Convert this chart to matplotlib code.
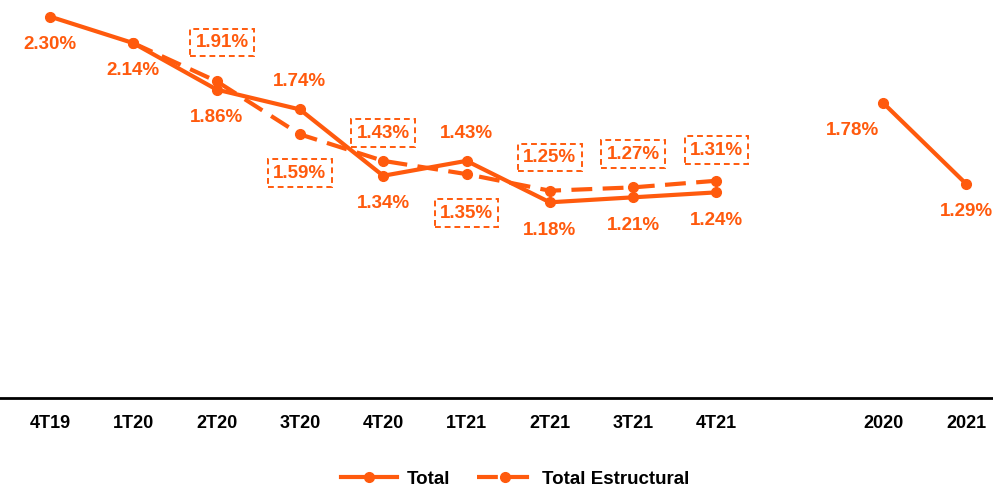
import matplotlib.pyplot as plt
import numpy as np

plt.rcParams['font.family'] = ['Liberation Sans', 'DejaVu Sans']

periods = ['4T19', '1T20', '2T20', '3T20', '4T20', '1T21', '2T21', '3T21', '4T21', '', '2020', '2021']
total = [2.30, 2.14, 1.86, 1.74, 1.34, 1.43, 1.18, 1.21, 1.24, np.nan, 1.78, 1.29]
estructural = [np.nan, 2.14, 1.91, 1.59, 1.43, 1.35, 1.25, 1.27, 1.31, np.nan, np.nan, np.nan]

# label offsets in points (dx, dy)
total_off = [(0, -20), (0, -20), (0, -20), (0, 20), (0, -20), (0, 20), (0, -20), (0, -20), (0, -20), None, (-22, -20), (0, -20)]
estr_off = [None, None, (4, 28), (0, -28), (0, 20), (0, -28), (0, 24), (0, 24), (0, 22), None, None, None]

orange = '#FF5A0D'

fig = plt.figure(figsize=(9.93, 4.9), dpi=100)
ax = fig.add_axes([0, 0.1878, 1, 0.8122])
x = np.arange(len(periods))

ax.plot(x, total, color=orange, lw=3, marker='o', ms=7, label='Total', zorder=3)
ax.plot(x, estructural, color=orange, lw=3, ls=(0, (5, 2.5)), marker='o', ms=7,
        label='Total Estructural', zorder=2)

for i, v in enumerate(total):
    if total_off[i] is None:
        continue
    ax.annotate(f'{v:.2f}%', (i, v), xytext=total_off[i], textcoords='offset points',
                ha='center', va='center', fontsize=13.5, fontweight='bold', color=orange)

for i, v in enumerate(estructural):
    if estr_off[i] is None:
        continue
    ax.annotate(f'{v:.2f}%', (i, v), xytext=estr_off[i], textcoords='offset points',
                ha='center', va='center', fontsize=13.5, fontweight='bold', color=orange,
                bbox=dict(boxstyle='square,pad=0.28', fc='white', ec=orange, ls=(0, (3, 2)), lw=1.4))

ax.set_xlim(-0.6, 11.32)
ax.set_ylim(0, 2.40)
ax.set_xticks([i for i in x if periods[i]])
ax.set_xticklabels([p for p in periods if p], fontsize=13, fontweight='bold')
ax.tick_params(axis='x', length=0, pad=12)
ax.set_yticks([])
for s in ['top', 'right', 'left']:
    ax.spines[s].set_visible(False)
ax.spines['bottom'].set_linewidth(2)

fig.legend(loc='center', bbox_to_anchor=(0.519, 0.022), ncol=2, frameon=False,
           prop={'size': 13.5, 'weight': 'bold'}, handlelength=3, handletextpad=0.5,
           columnspacing=1.4)

fig.savefig('out.png', dpi=100)
